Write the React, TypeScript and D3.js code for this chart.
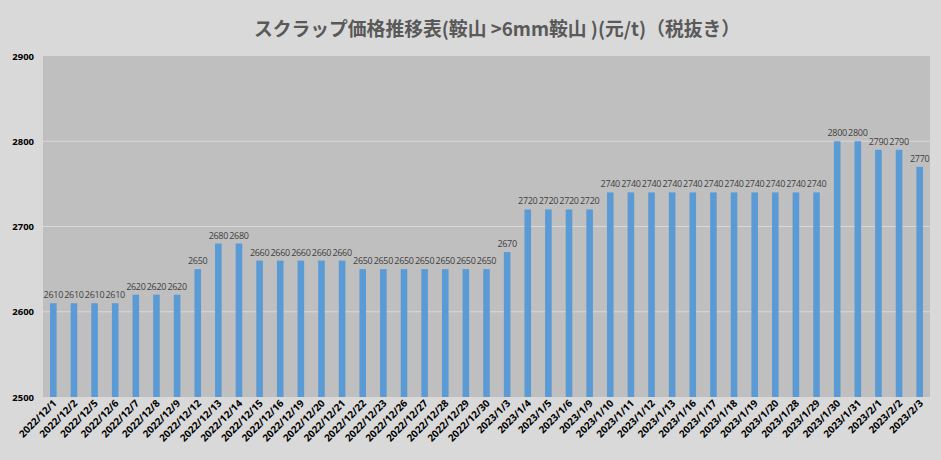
import { useEffect, useRef } from 'react';
import * as d3 from 'd3';

const dates = [
  '2022/12/1', '2022/12/2', '2022/12/5', '2022/12/6', '2022/12/7', '2022/12/8', '2022/12/9',
  '2022/12/12', '2022/12/13', '2022/12/14', '2022/12/15', '2022/12/16', '2022/12/19', '2022/12/20',
  '2022/12/21', '2022/12/22', '2022/12/23', '2022/12/26', '2022/12/27', '2022/12/28', '2022/12/29',
  '2022/12/30', '2023/1/3', '2023/1/4', '2023/1/5', '2023/1/6', '2023/1/9', '2023/1/10',
  '2023/1/11', '2023/1/12', '2023/1/13', '2023/1/16', '2023/1/17', '2023/1/18', '2023/1/19',
  '2023/1/20', '2023/1/28', '2023/1/29', '2023/1/30', '2023/1/31', '2023/2/1', '2023/2/2', '2023/2/3',
];

const prices = [
  2610, 2610, 2610, 2610, 2620, 2620, 2620,
  2650, 2680, 2680, 2660, 2660, 2660, 2660,
  2660, 2650, 2650, 2650, 2650, 2650, 2650,
  2650, 2670, 2720, 2720, 2720, 2720, 2740,
  2740, 2740, 2740, 2740, 2740, 2740, 2740,
  2740, 2740, 2740, 2800, 2800, 2790, 2790, 2770,
];

const yTicks = [2500, 2600, 2700, 2800, 2900];

const title = 'スクラップ価格推移表(鞍山 >6mm鞍山 )(元/t)（税抜き）';

const App = () => {
  const svgRef = useRef<SVGSVGElement | null>(null);

  useEffect(() => {
    if (!svgRef.current) return;
    const svg = d3.select(svgRef.current);
    svg.selectAll('*').remove();

    const width = 941;
    const height = 460;
    const margin = { top: 56, right: 11, bottom: 63, left: 43 };

    svg.append('rect').attr('width', width).attr('height', height).attr('fill', '#d9d9d9');

    const x = d3.scaleBand()
      .domain(dates)
      .range([margin.left, width - margin.right])
      .paddingInner(0.68)
      .paddingOuter(0.34);

    const y = d3.scaleLinear()
      .domain([2500, 2900])
      .range([height - margin.bottom, margin.top]);

    // plot area
    svg.append('rect')
      .attr('x', margin.left)
      .attr('y', margin.top)
      .attr('width', width - margin.left - margin.right)
      .attr('height', height - margin.top - margin.bottom)
      .attr('fill', '#bfbfbf');

    // gridlines
    svg.append('g')
      .selectAll('line')
      .data(yTicks.slice(1, -1))
      .join('line')
      .attr('x1', margin.left)
      .attr('x2', width - margin.right)
      .attr('y1', d => y(d))
      .attr('y2', d => y(d))
      .attr('stroke', '#d9d9d9')
      .attr('stroke-width', 1);

    // y axis
    const yAxis = svg.append('g')
      .attr('transform', `translate(${margin.left},0)`)
      .call(d3.axisLeft(y).tickValues(yTicks).tickFormat(d3.format('d')).tickSize(0).tickPadding(9));
    yAxis.select('.domain').remove();
    yAxis.selectAll('text')
      .attr('fill', '#000')
      .attr('font-family', "'Open Sans', sans-serif")
      .attr('font-weight', 'bold')
      .attr('font-size', 9.5);

    // bars
    svg.append('g')
      .selectAll('rect')
      .data(prices)
      .join('rect')
      .attr('x', (d, i) => x(dates[i]) as number)
      .attr('y', d => y(d))
      .attr('width', x.bandwidth())
      .attr('height', d => y(2500) - y(d))
      .attr('fill', '#5b9bd5');

    // value labels
    svg.append('g')
      .selectAll('text')
      .data(prices)
      .join('text')
      .attr('x', (d, i) => (x(dates[i]) as number) + x.bandwidth() / 2)
      .attr('y', d => y(d) - 5)
      .attr('text-anchor', 'middle')
      .attr('font-family', "'Open Sans', sans-serif")
      .attr('font-size', 9)
      .attr('letter-spacing', -0.3)
      .attr('fill', '#404040')
      .text(d => d);

    // x labels
    svg.append('g')
      .selectAll('text')
      .data(dates)
      .join('text')
      .attr('transform', d => `translate(${(x(d) as number) + x.bandwidth() / 2 + 4},${height - margin.bottom + 7}) rotate(-45)`)
      .attr('text-anchor', 'end')
      .attr('font-family', "'Open Sans', sans-serif")
      .attr('font-weight', 'bold')
      .attr('font-size', 10)
      .attr('fill', '#000')
      .text(d => d);

    // title
    svg.append('text')
      .attr('x', 497)
      .attr('y', 36)
      .attr('text-anchor', 'middle')
      .attr('font-family', "'Noto Sans CJK JP', sans-serif")
      .attr('font-weight', 'bold')
      .attr('font-size', 18.8)
      .attr('fill', '#595959')
      .text(title);
  }, []);

  return (
    <svg
      ref={svgRef}
      width={941}
      height={460}
      style={{ position: 'absolute', left: 0, top: 0 }}
    />
  );
};

export default App;
